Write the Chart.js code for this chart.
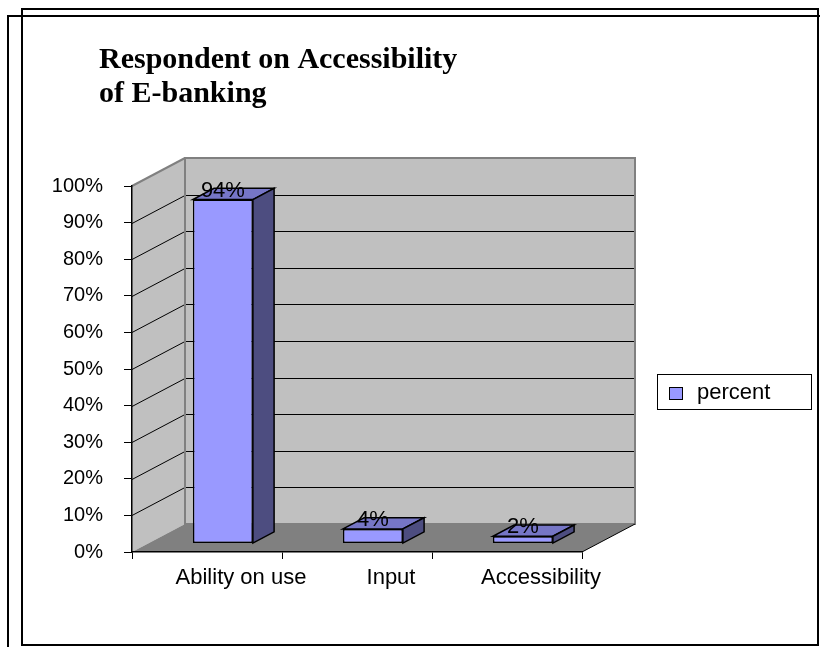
<!DOCTYPE html>
<html>
<head>
<meta charset="utf-8">
<title>Respondent on Accessibility of E-banking</title>
<script src="https://cdn.jsdelivr.net/npm/chart.js@4/dist/chart.umd.min.js"></script>
<style>
  html, body { margin: 0; padding: 0; background: #fff; }
  #chart { display: block; }
</style>
</head>
<body>
<canvas id="chart" width="820" height="647"></canvas>
<script>
// ── Data ────────────────────────────────────────────
const categories  = ['Ability on use', 'Input', 'Accessibility']
const percent     = [0.94, 0.04, 0.02]
const valueLabels = ['94%', '4%', '2%']
const yTickLabels = ['0%', '10%', '20%', '30%', '40%', '50%', '60%', '70%', '80%', '90%', '100%']
const titleLines  = ['Respondent on Accessibility', 'of E-banking']
const seriesName  = 'percent'

// ── 3D look ─────────────────────────────────────────
const DEPTH     = { dx: 53, dy: -28 }   // floor depth, front edge to back wall
const BAR_FRONT = 0.3                    // bar front face sits this far into the depth
const BAR_DEPTH = 0.4                    // bar thickness as a share of the depth
const COLORS = {
  wall:  '#C0C0C0',
  floor: '#808080',
  edge:  '#808080',
  front: '#9999FF',
  top:   '#7676C6',
  side:  '#4D4D80',
}

function poly(ctx, pts, fill, stroke, lw) {
  ctx.beginPath()
  ctx.moveTo(pts[0][0], pts[0][1])
  for (let i = 1; i < pts.length; i++) ctx.lineTo(pts[i][0], pts[i][1])
  ctx.closePath()
  if (fill) { ctx.fillStyle = fill; ctx.fill() }
  if (stroke) { ctx.strokeStyle = stroke; ctx.lineWidth = lw || 1; ctx.stroke() }
}

// frames, title, walls, floor and legend
const backdrop = {
  id: 'backdrop',
  beforeDraw(chart) {
    const { ctx, chartArea: a, scales: { y } } = chart
    const { dx, dy } = DEPTH
    ctx.save()
    ctx.fillStyle = '#fff'
    ctx.fillRect(0, 0, chart.width, chart.height)

    // page frames
    ctx.strokeStyle = '#000'
    ctx.lineWidth = 2
    ctx.beginPath()
    ctx.moveTo(820, 16); ctx.lineTo(8, 16); ctx.lineTo(8, 647)
    ctx.stroke()
    ctx.strokeRect(22, 9, 796, 636)

    // title
    ctx.fillStyle = '#000'
    ctx.font = 'bold 30px "Liberation Serif", "Times New Roman", serif'
    ctx.textBaseline = 'alphabetic'
    ctx.textAlign = 'left'
    ctx.fillText(titleLines[0], 99, 68)
    ctx.fillText(titleLines[1], 99, 102)

    const y0 = y.getPixelForValue(0)
    const y1 = y.getPixelForValue(1)

    // back wall
    poly(ctx, [[a.left + dx, y1 + dy], [a.right + dx, y1 + dy], [a.right + dx, y0 + dy], [a.left + dx, y0 + dy]],
      COLORS.wall, null)
    // side wall
    poly(ctx, [[a.left, y1], [a.left + dx, y1 + dy], [a.left + dx, y0 + dy], [a.left, y0]], COLORS.wall, null)

    // gridlines on both walls
    ctx.strokeStyle = '#000'
    ctx.lineWidth = 1
    for (let i = 1; i < yTickLabels.length - 1; i++) {
      const py = Math.round(y.getPixelForValue(i / 10)) + 0.5
      ctx.beginPath()
      ctx.moveTo(a.left, py)
      ctx.lineTo(a.left + dx, py + dy)
      ctx.lineTo(a.right + dx, py + dy)
      ctx.stroke()
    }

    // wall borders
    poly(ctx, [[a.left + dx, y1 + dy], [a.right + dx, y1 + dy], [a.right + dx, y0 + dy], [a.left + dx, y0 + dy]],
      null, COLORS.edge, 2)
    ctx.beginPath()
    ctx.moveTo(a.left, y1); ctx.lineTo(a.left + dx, y1 + dy)
    ctx.strokeStyle = COLORS.edge; ctx.lineWidth = 2; ctx.stroke()

    // floor
    poly(ctx, [[a.left, y0], [a.right, y0], [a.right + dx, y0 + dy], [a.left + dx, y0 + dy]], COLORS.floor, null)
    ctx.beginPath()
    ctx.moveTo(a.right, y0); ctx.lineTo(a.right + dx, y0 + dy)
    ctx.strokeStyle = '#000'; ctx.lineWidth = 1; ctx.stroke()

    // legend
    ctx.fillStyle = '#fff'
    ctx.fillRect(657, 374, 154, 35)
    ctx.strokeStyle = '#000'
    ctx.lineWidth = 1
    ctx.strokeRect(657.5, 374.5, 154, 35)
    ctx.fillStyle = COLORS.front
    ctx.fillRect(669.5, 387.5, 13, 12)
    ctx.strokeRect(669.5, 387.5, 13, 12)
    ctx.fillStyle = '#000'
    ctx.font = '22px Arial, "Liberation Sans", sans-serif'
    ctx.textBaseline = 'middle'
    ctx.fillText(chart.data.datasets[0].label, 697, 393)
    ctx.restore()
  },

  // front faces are drawn by Chart.js, pushed into the depth
  beforeDatasetsDraw(chart) {
    chart.ctx.save()
    chart.ctx.translate(DEPTH.dx * BAR_FRONT, DEPTH.dy * BAR_FRONT)
  },

  // top and side faces, then the value labels
  afterDatasetsDraw(chart) {
    const { ctx } = chart
    ctx.restore()
    const ox = DEPTH.dx * BAR_FRONT, oy = DEPTH.dy * BAR_FRONT
    const bx = DEPTH.dx * BAR_DEPTH, by = DEPTH.dy * BAR_DEPTH
    ctx.save()
    ctx.lineJoin = 'miter'
    chart.getDatasetMeta(0).data.forEach((bar, i) => {
      const { x, y, base, width } = bar.getProps(['x', 'y', 'base', 'width'], true)
      const L = x - width / 2 + ox, R = x + width / 2 + ox
      const T = y + oy, B = base + oy
      poly(ctx, [[L, T], [R, T], [R + bx, T + by], [L + bx, T + by]], COLORS.top, '#000', 1.5)
      poly(ctx, [[R, T], [R + bx, T + by], [R + bx, B + by], [R, B]], COLORS.side, '#000', 1.5)

      ctx.fillStyle = '#000'
      ctx.font = '22px Arial, "Liberation Sans", sans-serif'
      ctx.textAlign = 'center'
      ctx.textBaseline = 'middle'
      ctx.fillText(valueLabels[i], x + ox, T - 9)
    })
    ctx.restore()
  },
}

new Chart(document.getElementById('chart'), {
  type: 'bar',
  data: {
    labels: categories,
    datasets: [{
      label: seriesName,
      data: percent,
      backgroundColor: COLORS.front,
      borderColor: '#000',
      borderWidth: 1.5,
      borderSkipped: false,
      categoryPercentage: 1,
      barPercentage: 0.4,
      clip: false,
    }],
  },
  options: {
    responsive: false,
    animation: false,
    devicePixelRatio: 1,
    layout: { padding: { left: 32, right: 238, top: 186, bottom: 50 } },
    plugins: {
      legend:  { display: false },
      title:   { display: false },
      tooltip: { enabled: false },
    },
    scales: {
      x: {
        afterFit(scale) { scale.height = 45 },
        grid: {
          offset: true,
          drawOnChartArea: false,
          drawTicks: true,
          tickLength: 7,
          color: '#000',
        },
        border: { color: '#000', width: 1.5 },
        ticks: {
          color: '#000',
          font: { family: 'Arial, "Liberation Sans", sans-serif', size: 22 },
          padding: 6,
          labelOffset: 34,
          maxRotation: 0,
          autoSkip: false,
        },
      },
      y: {
        min: 0,
        max: 1,
        afterFit(scale) { scale.width = 100 },
        grid: {
          drawOnChartArea: false,
          drawTicks: true,
          tickLength: 8,
          color: '#000',
        },
        border: { color: '#000', width: 1.5 },
        ticks: {
          stepSize: 0.1,
          color: '#000',
          font: { family: 'Arial, "Liberation Sans", sans-serif', size: 20 },
          padding: 21,
          callback: (v, i) => yTickLabels[i],
        },
      },
    },
  },
  plugins: [backdrop],
})
</script>
</body>
</html>
